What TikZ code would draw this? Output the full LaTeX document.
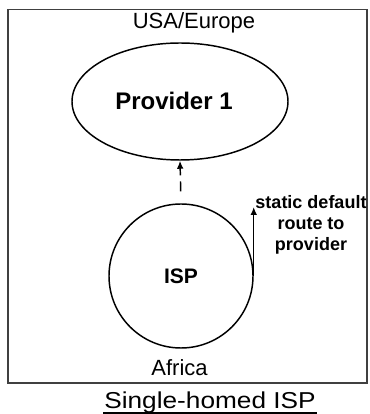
\documentclass[tikz,border=0pt]{standalone}
\usepackage{fontspec}
\setmainfont{Liberation Sans}
\usetikzlibrary{arrows.meta,shapes.geometric}

\begin{document}
\begin{tikzpicture}[x=0.75pt,y=0.75pt,line width=1.1pt,
  >={Latex[length=6pt,width=5pt]},
  place/.style={font=\fontsize{16.5}{18}\selectfont},
  netname/.style={font=\bfseries\fontsize{15.75}{18}\selectfont}]
  \useasboundingbox (0,0) rectangle (369,414);
  \draw[line width=1.4pt,black!75] (8,31) rectangle (367,404.5);
  \node[place] (usa) at (194,391.5) {USA/Europe};
  \node[draw,ellipse,minimum width=162pt,minimum height=87.75pt,inner sep=0pt]
    (prov) at (180,312.5) {};
  \node[netname,font=\bfseries\fontsize{18}{20}\selectfont] (provtext) at (174,313) {Provider 1};
  \node[draw,circle,minimum size=108pt,inner sep=0pt,netname] (isp) at (181,138) {ISP};

  % link to the provider
  \draw[->,dash pattern=on 0pt off 9pt on 7.5pt off 4.5pt on 30pt] (isp.north) -- (prov.south);
  \coordinate (routetop) at (isp.east |- 0,207);
  \draw[->] (isp.east) -- (routetop);
  \node[align=center,font=\bfseries\fontsize{13.5}{15.75}\selectfont] (route) at (311,189)
    {static default\\route to\\provider};
  \node[place] (africa) at (179.5,46) {Africa};

  \node[inner sep=0pt,anchor=base,xscale=1.14,transform shape,
    font=\fontsize{17.25}{19}\selectfont] (caption) at (210,6) {Single-homed ISP};
  \draw[line width=1.5pt] ([yshift=-3.75pt]caption.base west) -- ([yshift=-3.75pt]caption.base east);
\end{tikzpicture}
\end{document}
